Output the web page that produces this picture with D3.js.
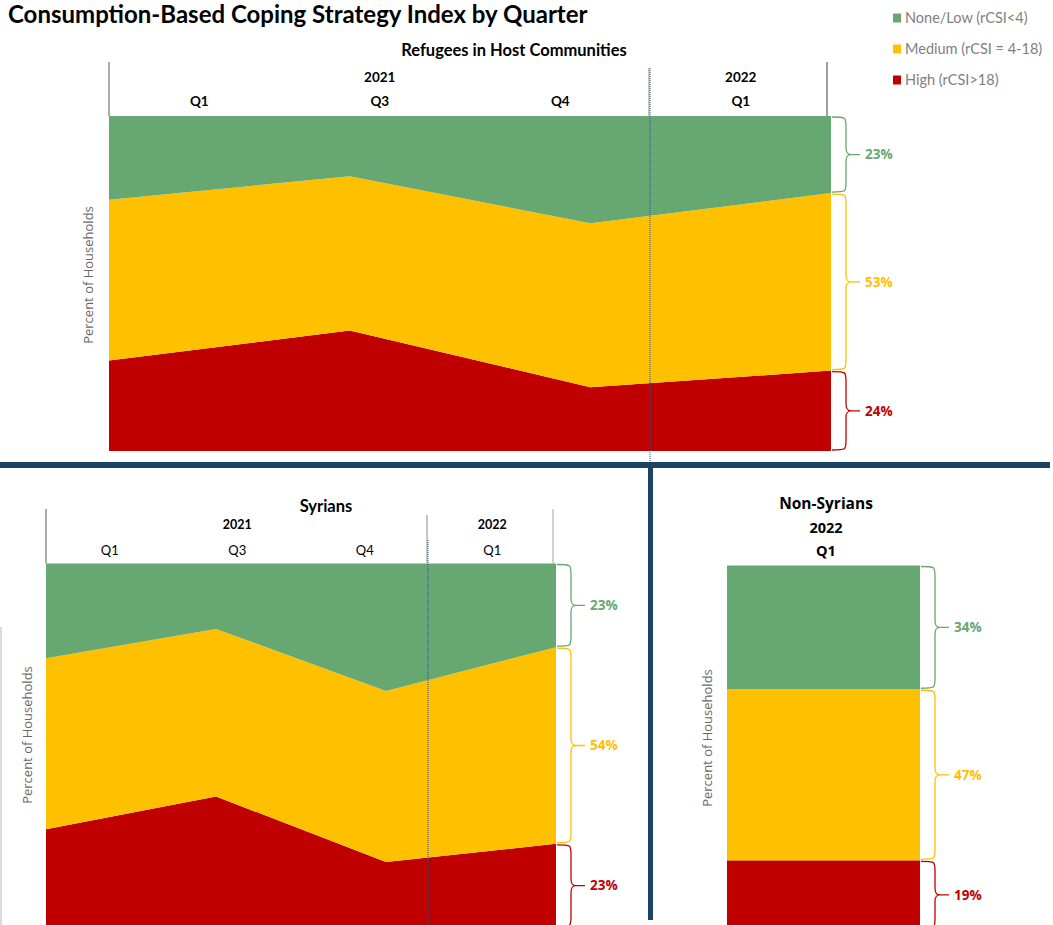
<!DOCTYPE html>
<html>
<head>
<meta charset="utf-8">
<script src="https://cdn.jsdelivr.net/npm/d3@7"></script>
<style>
  html, body { margin: 0; padding: 0; background: #ffffff; }
  svg { display: block; }
</style>
</head>
<body>
<svg id="chart" width="1053" height="925"></svg>
<script>
// Reporting periods (quarter within year)
const periods = ["2021 Q1", "2021 Q3", "2021 Q4", "2022 Q1"];
const quarterLabels = ["Q1", "Q3", "Q4", "Q1"];
const periodYears = ["2021", "2021", "2021", "2022"];
const years = ["2021", "2022"];

// Coping levels, stacked bottom to top
const levels = ["high", "medium", "low"];
const levelNames = ["High (rCSI>18)", "Medium (rCSI = 4-18)", "None/Low (rCSI<4)"];
const levelColors = ["#C00000", "#FFC000", "#66A772"];
const legendOrder = ["low", "medium", "high"];

// Percent of households – refugees in host communities
const refugeesHigh = [27, 36, 19, 24];
const refugeesMedium = [48, 46, 49, 53];
const refugeesLow = [25, 18, 32, 23];

// Percent of households – Syrians
const syriansHigh = [27, 36, 18, 23];
const syriansMedium = [47, 46, 47, 54];
const syriansLow = [26, 18, 35, 23];

// Percent of households – non-Syrians (latest quarter only)
const nonSyriansPeriods = ["2022 Q1"];
const nonSyriansQuarters = ["Q1"];
const nonSyriansYears = ["2022"];
const nonSyriansHigh = [19];
const nonSyriansMedium = [47];
const nonSyriansLow = [34];

const chartTitle = "Consumption-Based Coping Strategy Index by Quarter";
const yTitle = "Percent of Households";

const color = d3.scaleOrdinal().domain(levels).range(levelColors);
const nameOf = d3.scaleOrdinal().domain(levels).range(levelNames);

const CAL = "Lato, 'Liberation Sans', sans-serif";
const SEG = "'Open Sans', 'Noto Sans', sans-serif";
const NAVY = "#1B4363";

const svg = d3.select("#chart");

function rowsOf(keys, high, medium, low) {
  return keys.map((k, i) => ({ period: k, high: high[i], medium: medium[i], low: low[i] }));
}

const stack = d3.stack().keys(levels);

// Curly brace opening to the right, from y0 to y1
function bracePath(x, y0, y1) {
  const m = (y0 + y1) / 2;
  const sx = x + 14, tx = x + 28;
  const r = Math.min(10, (y1 - y0) / 4);
  const q = Math.min(7, (y1 - y0) / 5);
  return `M${x},${y0} C${sx},${y0} ${sx},${y0} ${sx},${y0 + r}` +
    ` L${sx},${m - q} C${sx},${m - 1} ${sx + 2},${m} ${sx + 5},${m} L${tx},${m}` +
    ` M${sx + 5},${m} C${sx + 2},${m} ${sx},${m + 1} ${sx},${m + q}` +
    ` L${sx},${y1 - r} C${sx},${y1} ${sx},${y1} ${x},${y1}`;
}

function drawBraces(g, series, idx, y, xEdge) {
  series.forEach(s => {
    const d = s[idx];
    const y0 = y(d[1]) + 1, y1 = y(d[0]) - 1;
    g.append("path")
      .attr("d", bracePath(xEdge + 1, y0, y1))
      .attr("fill", "none")
      .attr("stroke", color(s.key))
      .attr("stroke-width", 1.3);
    g.append("text")
      .attr("x", xEdge + 34)
      .attr("y", (y0 + y1) / 2)
      .attr("dy", "0.35em")
      .attr("font-family", SEG)
      .attr("font-weight", 700)
      .attr("font-size", 13.5)
      .attr("fill", color(s.key))
      .text(d3.format(".0f")(d[1] - d[0]) + "%");
  });
}

function yAxisTitle(x, y) {
  svg.append("text")
    .attr("transform", `translate(${x},${y}) rotate(-90)`)
    .attr("text-anchor", "middle")
    .attr("dy", "0.35em")
    .attr("font-family", SEG)
    .attr("font-size", 13)
    .attr("fill", "#686868")
    .text(yTitle);
}

// Stacked area panel with a two-level (year / quarter) category header
function areaPanel(cfg) {
  const g = svg.append("g");
  const data = rowsOf(periods, cfg.high, cfg.medium, cfg.low);
  const series = stack(data);

  const xPoint = d3.scalePoint().domain(periods).range([cfg.x0, cfg.x1]);
  const xBand = d3.scaleBand().domain(periods).range([cfg.x0, cfg.x1]);
  const y = d3.scaleLinear().domain([0, 100]).range([cfg.top + cfg.h, cfg.top]);

  const area = d3.area()
    .x(d => xPoint(d.data.period))
    .y0(d => y(d[0]))
    .y1(d => y(d[1]));

  g.selectAll("path.layer").data(series).join("path")
    .attr("class", "layer")
    .attr("d", area)
    .attr("fill", d => color(d.key));

  // boundary between the two years
  const firstOf = yr => periods[periodYears.indexOf(yr)];
  const splitX = xBand(firstOf(years[1]));

  // header lines
  g.append("line").attr("x1", cfg.x0).attr("x2", cfg.x0)
    .attr("y1", cfg.lineTop).attr("y2", cfg.top)
    .attr("stroke", "#595959").attr("stroke-width", 1);
  g.append("line").attr("x1", cfg.rightLine).attr("x2", cfg.rightLine)
    .attr("y1", cfg.lineTop).attr("y2", cfg.top)
    .attr("stroke", cfg.rightColor).attr("stroke-width", 1);
  g.append("line").attr("x1", splitX - 1.5).attr("x2", splitX - 1.5)
    .attr("y1", cfg.splitTop).attr("y2", cfg.top)
    .attr("stroke", "#8C8C8C").attr("stroke-width", 1);
  g.append("line").attr("x1", splitX - 0.5).attr("x2", splitX - 0.5)
    .attr("y1", cfg.dotTop).attr("y2", cfg.dotBottom)
    .attr("stroke", "#34507A").attr("stroke-width", 1)
    .attr("stroke-dasharray", "1,1");

  // quarter labels
  g.selectAll("text.q").data(periods).join("text")
    .attr("class", "q")
    .attr("x", d => xBand(d) + xBand.bandwidth() / 2)
    .attr("y", cfg.qY)
    .attr("dy", "0.35em")
    .attr("text-anchor", "middle")
    .attr("font-family", CAL)
    .attr("font-weight", cfg.qWeight)
    .attr("font-size", cfg.qSize)
    .attr("fill", "#000")
    .text((d, i) => quarterLabels[i]);

  // year labels, centred over their quarters
  g.selectAll("text.yr").data(years).join("text")
    .attr("class", "yr")
    .attr("x", yr => {
      const ps = periods.filter((p, i) => periodYears[i] === yr);
      const a = xBand(ps[0]), b = xBand(ps[ps.length - 1]) + xBand.bandwidth();
      return (a + b) / 2;
    })
    .attr("y", cfg.yearY)
    .attr("dy", "0.35em")
    .attr("text-anchor", "middle")
    .attr("font-family", CAL)
    .attr("font-weight", 700)
    .attr("font-size", cfg.yearSize)
    .attr("fill", "#000")
    .text(d => d);

  g.append("text")
    .attr("x", cfg.titleX).attr("y", cfg.titleY)
    .attr("dy", "0.35em")
    .attr("text-anchor", "middle")
    .attr("font-family", CAL)
    .attr("font-weight", 700)
    .attr("font-size", cfg.titleSize)
    .attr("fill", "#000")
    .text(cfg.title);

  drawBraces(g, series, periods.length - 1, y, cfg.x1);
  yAxisTitle(cfg.yTitleX, cfg.yTitleY);
}

// Page title
svg.append("text")
  .attr("x", 8).attr("y", 15)
  .attr("dy", "0.35em")
  .attr("font-family", CAL)
  .attr("font-weight", 700)
  .attr("font-size", 24)
  .attr("fill", "#000")
  .text(chartTitle);

// Legend
const legend = svg.append("g");
legendOrder.forEach((k, i) => {
  const yy = [18, 49, 80][i];
  legend.append("rect")
    .attr("x", 893).attr("y", yy - 4.5)
    .attr("width", 8).attr("height", 9)
    .attr("fill", color(k));
  legend.append("text")
    .attr("x", 905).attr("y", yy)
    .attr("dy", "0.35em")
    .attr("font-family", CAL)
    .attr("font-size", 14.5)
    .attr("fill", "#7F7F7F")
    .text(nameOf(k));
});

// Refugees in host communities
areaPanel({
  high: refugeesHigh, medium: refugeesMedium, low: refugeesLow,
  x0: 109, x1: 831, top: 116, h: 335,
  lineTop: 62, rightLine: 827, rightColor: "#404040",
  splitTop: 68, dotTop: 68, dotBottom: 462,
  qY: 101, qSize: 13.5, qWeight: 700,
  yearY: 77, yearSize: 13.5,
  title: "Refugees in Host Communities", titleX: 514, titleY: 50, titleSize: 16.5,
  yTitleX: 88, yTitleY: 275
});

// Syrians
areaPanel({
  high: syriansHigh, medium: syriansMedium, low: syriansLow,
  x0: 46, x1: 556, top: 563.5, h: 364,
  lineTop: 509, rightLine: 553, rightColor: "#A6A6A6",
  splitTop: 515, dotTop: 540, dotBottom: 925,
  qY: 550, qSize: 13, qWeight: 400,
  yearY: 525, yearSize: 12.5,
  title: "Syrians", titleX: 326, titleY: 506, titleSize: 16.5,
  yTitleX: 27, yTitleY: 735
});

// Non-Syrians: single stacked column
(function () {
  const g = svg.append("g");
  const data = rowsOf(nonSyriansPeriods, nonSyriansHigh, nonSyriansMedium, nonSyriansLow);
  const series = stack(data);
  const x = d3.scaleBand().domain(nonSyriansPeriods).range([727, 920]);
  const y = d3.scaleLinear().domain([0, 100]).range([565.5 + 364, 565.5]);

  g.selectAll("g.layer").data(series).join("g")
    .attr("class", "layer")
    .attr("fill", d => color(d.key))
    .selectAll("rect").data(d => d).join("rect")
    .attr("x", d => x(d.data.period))
    .attr("width", x.bandwidth())
    .attr("y", d => y(d[1]))
    .attr("height", d => y(d[0]) - y(d[1]));

  const cx = 826;
  [["Non-Syrians", 504, 15.5], [nonSyriansYears[0], 528, 14.5], [nonSyriansQuarters[0], 551, 14.5]]
    .forEach(([t, yy, fs]) => {
      g.append("text")
        .attr("x", cx).attr("y", yy)
        .attr("dy", "0.35em")
        .attr("text-anchor", "middle")
        .attr("font-family", SEG)
        .attr("font-weight", 700)
        .attr("font-size", fs)
        .attr("fill", "#000")
        .text(t);
    });

  drawBraces(g, series, 0, y, 920);
  yAxisTitle(707, 738);
})();

// Panel separators
svg.append("rect").attr("x", 0).attr("y", 462).attr("width", 1050).attr("height", 6).attr("fill", NAVY);
svg.append("rect").attr("x", 648).attr("y", 468).attr("width", 5).attr("height", 452).attr("fill", NAVY);
svg.append("line").attr("x1", 1).attr("x2", 1).attr("y1", 627).attr("y2", 925)
  .attr("stroke", "#C9D1DC").attr("stroke-width", 1.5);
</script>
</body>
</html>
